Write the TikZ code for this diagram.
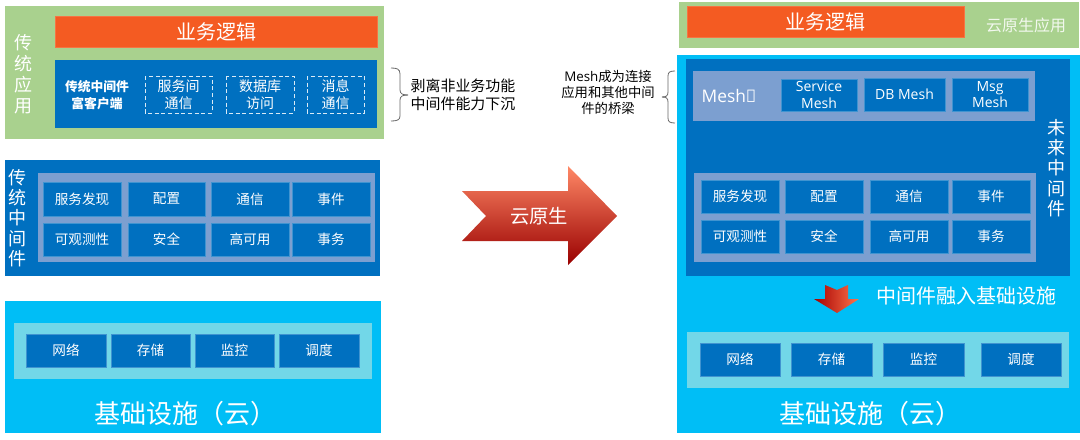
\documentclass[tikz,border=0pt]{standalone}
\usepackage{fontspec}
\setmainfont{Noto Sans CJK SC}
\newfontfamily\latinfont{Open Sans}
\definecolor{appgreen}{HTML}{A9D18E}
\definecolor{bizorange}{HTML}{F45B22}
\definecolor{mwblue}{HTML}{0070C0}
\definecolor{panelblue}{HTML}{7C9FD0}
\definecolor{cloudblue}{HTML}{00BEF6}
\definecolor{panelcyan}{HTML}{72D7E8}
\tikzset{
  px/.style={font=\fontsize{#1*0.75pt}{#1*0.9pt}\selectfont},
  cellbox/.style={fill=mwblue,draw=mwblue!75!white,line width=0.5pt,text=white,font=\fontsize{10.2pt}{12.6pt}\selectfont},
  bizbox/.style={fill=bizorange,draw=bizorange!85!white,line width=0.5pt,text=white,font=\fontsize{15pt}{18pt}\selectfont},
  dashbox/.style={draw=white!85!mwblue,densely dashed,line width=0.5pt,text=white,font=\fontsize{10.5pt}{12.6pt}\selectfont},
  meshbox/.style={cellbox,font=\latinfont\fontsize{10.5pt}{12.4pt}\selectfont},
  note/.style={text=black,align=center,inner sep=0pt},
  sidetext/.style={text=white,align=center,inner sep=0pt},
  bracket/.style={draw=black!60,line width=0.6pt},
}
\begin{document}
\begin{tikzpicture}[x=0.75pt,y=-0.75pt]
\useasboundingbox (0,0) rectangle (1080,439);

\fill[appgreen] (5,6) rectangle (384,139);
\node[sidetext,font=\fontsize{13.5pt}{15.8pt}\selectfont] (appside) at (23,74) {传\\统\\应\\用};
\draw[bizbox] (55,16) rectangle node (bizleft) {业务逻辑} (377,47);
\fill[mwblue] (55,60) rectangle (377,128);
\node[sidetext,font=\bfseries\fontsize{9.6pt}{12.6pt}\selectfont] (richclient) at (97,95) {传统中间件\\富客户端};
\draw[dashbox,align=center] (145,76) rectangle node (rpcbox) {服务间\\通信} (212,113);
\draw[dashbox,align=center] (226,76) rectangle node (dbbox) {数据库\\访问} (294,113);
\draw[dashbox,align=center] (307,76) rectangle node (msgbox) {消息\\通信} (364,113);

\draw[bracket] (391,68) .. controls (397,68) and (400,69) .. (400,74) -- (400,90) .. controls (400,94) and (403,95) .. (408,95);
\draw[bracket] (391,121) .. controls (397,121) and (400,120) .. (400,116) -- (400,100) .. controls (400,96) and (403,95) .. (408,95);
\node[note,font=\fontsize{11.2pt}{13.2pt}\selectfont] (stripnote) at (463,95) {剥离非业务功能\\中间件能力下沉};

\fill[mwblue] (5,160) rectangle (380,276);
\node[sidetext,font=\fontsize{13.5pt}{15.2pt}\selectfont] (mwside) at (17,218) {传\\统\\中\\间\\件};
\fill[panelblue] (38,173) rectangle (375,262);
\draw[cellbox] (43,182) rectangle node (discovery) {服务发现} (121,216);
\draw[cellbox] (128,182) rectangle node (config) {配置} (205,216);
\draw[cellbox] (211,182) rectangle node (comm) {通信} (289,216);
\draw[cellbox] (292,182) rectangle node (event) {事件} (370,216);
\draw[cellbox] (43,223) rectangle node (observe) {可观测性} (121,256);
\draw[cellbox] (128,223) rectangle node (security) {安全} (205,256);
\draw[cellbox] (211,223) rectangle node (ha) {高可用} (289,256);
\draw[cellbox] (292,223) rectangle node (trans) {事务} (370,256);

\fill[cloudblue] (5,301) rectangle (381,433);
\fill[panelcyan] (14,323) rectangle (372,379);
\draw[cellbox] (26,334) rectangle node (net) {网络} (106,367);
\draw[cellbox] (111,334) rectangle node (store) {存储} (190,367);
\draw[cellbox] (195,334) rectangle node (monitor) {监控} (274,367);
\draw[cellbox] (279,334) rectangle node (sched) {调度} (359,367);
\node[sidetext,font=\fontsize{19.5pt}{22pt}\selectfont] (infraleft) at (185,414) {基础设施（云）};

\shade[top color=red!55!orange!60!white,middle color=red!85!orange,bottom color=red!60!black] (462,191)--(568,191)--(568,166)--(617,216)--(568,265)--(568,241)--(462,241)--(486,216)--cycle;
\node[sidetext,font=\fontsize{14.5pt}{17pt}\selectfont] (cloudnative) at (539,216) {云原生};

\fill[appgreen] (679,2) rectangle (1079,48);
\draw[bizbox] (687,6) rectangle node (bizright) {业务逻辑} (964,37);
\node[sidetext,text=white!85!appgreen,font=\fontsize{12pt}{14pt}\selectfont] (cnapp) at (1026,25) {云原生应用};

\fill[cloudblue] (677,55) rectangle (1080,433);
\fill[mwblue] (686,59) rectangle (1070,276);
\fill[panelblue] (693,71) rectangle (1035,121);
\node[sidetext,font=\latinfont\fontsize{13pt}{15pt}\selectfont] (meshlayer) at (729,96) {Mesh层};
\draw[meshbox,align=center] (781,79) rectangle node (svcmesh) {Service\\Mesh} (857,111);
\draw[meshbox,align=center] (864,78) rectangle node (dbmesh) {DB Mesh} (945,111);
\draw[meshbox,align=center] (952,78) rectangle node (msgmesh) {Msg\\Mesh} (1028,111);
\node[sidetext,font=\fontsize{13.5pt}{15.2pt}\selectfont] (futureside) at (1056,168) {未\\来\\中\\间\\件};

\fill[panelblue] (694,173) rectangle (1036,262);
\draw[cellbox] (701,180) rectangle node (discovery2) {服务发现} (779,213);
\draw[cellbox] (785,180) rectangle node (config2) {配置} (863,213);
\draw[cellbox] (870,180) rectangle node (comm2) {通信} (948,213);
\draw[cellbox] (952,180) rectangle node (event2) {事件} (1030,213);
\draw[cellbox] (701,220) rectangle node (observe2) {可观测性} (779,253);
\draw[cellbox] (785,220) rectangle node (security2) {安全} (863,253);
\draw[cellbox] (870,220) rectangle node (ha2) {高可用} (948,253);
\draw[cellbox] (952,220) rectangle node (trans2) {事务} (1030,253);

\shade[left color=red!65!black,right color=red!55!orange!70!white] (825,285)--(837,290)--(848,285)--(848,299)--(859,299)--(837,313)--(814,299)--(825,299)--cycle;
\node[sidetext,font=\fontsize{15pt}{17pt}\selectfont] (sinknote) at (966,296) {中间件融入基础设施};

\fill[panelcyan] (687,332) rectangle (1069,388);
\draw[cellbox] (700,343) rectangle node (net2) {网络} (780,376);
\draw[cellbox] (791,343) rectangle node (store2) {存储} (872,376);
\draw[cellbox] (883,343) rectangle node (monitor2) {监控} (964,376);
\draw[cellbox] (981,343) rectangle node (sched2) {调度} (1061,376);
\node[sidetext,font=\fontsize{19.5pt}{22pt}\selectfont] (inframright) at (870,414) {基础设施（云）};

\draw[bracket] (675,71) .. controls (670,71) and (668,72) .. (668,76) -- (668,92) .. controls (668,96) and (666,97) .. (662,97);
\draw[bracket] (675,123) .. controls (670,123) and (668,122) .. (668,118) -- (668,102) .. controls (668,98) and (666,97) .. (662,97);
\node[note,font=\fontsize{10pt}{12pt}\selectfont] (meshnote) at (608,92) {{\latinfont Mesh}成为连接\\应用和其他中间\\件的桥梁};
\end{tikzpicture}
\end{document}
